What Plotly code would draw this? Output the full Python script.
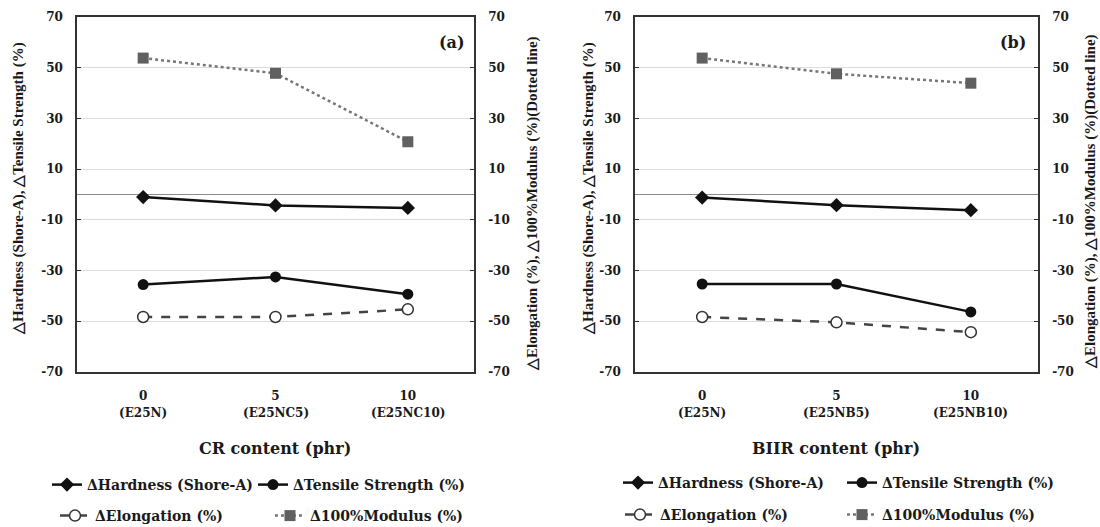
import plotly.graph_objects as go

# ---------------- data ----------------
categories = ["0", "5", "10"]
sublabels_a = ["(E25N)", "(E25NC5)", "(E25NC10)"]
sublabels_b = ["(E25N)", "(E25NB5)", "(E25NB10)"]

hardness_a = [-1, -4.3, -5.3]
tensile_a = [-35.5, -32.5, -39.3]
elongation_a = [-48.3, -48.3, -45.3]
modulus_a = [53.8, 47.8, 20.8]

hardness_b = [-1.2, -4.2, -6.2]
tensile_b = [-35.3, -35.3, -46.3]
elongation_b = [-48.3, -50.4, -54.3]
modulus_b = [53.8, 47.6, 43.9]

y_ticks = [-70, -50, -30, -10, 10, 30, 50, 70]

names = ["ΔHardness (Shore-A)", "ΔTensile Strength (%)", "ΔElongation (%)", "Δ100%Modulus (%)"]

W, H = 1100, 527
SERIF = "DejaVu Serif"
TXT = "#1a1a1a"

def px(x):
    return x / W

def py(y):
    return 1 - y / H

fig = go.Figure()

styles = [
    dict(line=dict(color="#111", width=2.5), marker=dict(symbol="diamond", size=11, color="#111")),
    dict(line=dict(color="#111", width=2.5), marker=dict(symbol="circle", size=11, color="#111")),
    dict(line=dict(color="#444", width=2.5, dash="dash"),
         marker=dict(symbol="circle", size=11, color="white", line=dict(color="#333", width=1.5))),
    dict(line=dict(color="#777", width=2.5, dash="dot"),
         marker=dict(symbol="square", size=11, color="#606060")),
]

panels = [
    dict(series=[hardness_a, tensile_a, elongation_a, modulus_a], xa="x", ya=["y", "y", "y2", "y2"],
         legends=["legend", "legend2", "legend3", "legend4"]),
    dict(series=[hardness_b, tensile_b, elongation_b, modulus_b], xa="x2", ya=["y3", "y3", "y4", "y4"],
         legends=["legend5", "legend6", "legend7", "legend8"]),
]

for p in panels:
    for i, s in enumerate(p["series"]):
        fig.add_trace(go.Scatter(
            x=categories, y=s, name=names[i], mode="lines+markers",
            xaxis=p["xa"], yaxis=p["ya"][i], legend=p["legends"][i], showlegend=True,
            line=styles[i]["line"], marker=styles[i]["marker"],
        ))

tickfont = dict(family=SERIF, size=12, color=TXT, weight="bold")

def yax(side, anchor, overlaying=None, grid=True):
    d = dict(
        range=[-70, 70], tickvals=y_ticks, ticktext=[str(v) for v in y_ticks],
        showgrid=grid, gridcolor="#dcdcdc", gridwidth=1,
        zeroline=grid, zerolinecolor="#8a8a8a", zerolinewidth=1,
        showline=True, linecolor="#333", linewidth=1.5,
        ticks="inside", ticklen=4, tickcolor="#333",
        tickfont=tickfont, side=side, anchor=anchor,
        ticklabelstandoff=10, fixedrange=True,
        domain=[py(372), py(17)],
    )
    if overlaying:
        d["overlaying"] = overlaying
    return d

def xax(domain, anchor):
    return dict(
        type="category", range=[-0.5, 2.5], domain=domain, anchor=anchor,
        showgrid=False, showline=True, mirror=True, linecolor="#333", linewidth=1.5,
        ticks="", tickfont=tickfont, ticklabelstandoff=12, fixedrange=True,
    )

dom_a = [px(77), px(474)]
dom_b = [px(635), px(1038)]

fig.update_layout(
    width=W, height=H, showlegend=True,
    margin=dict(l=0, r=0, t=0, b=0, autoexpand=False),
    paper_bgcolor="white", plot_bgcolor="white",
    xaxis=xax(dom_a, "y"),
    xaxis2=xax(dom_b, "y3"),
    yaxis=yax("left", "x"),
    yaxis2=yax("right", "x", overlaying="y", grid=False),
    yaxis3=yax("left", "x2"),
    yaxis4=yax("right", "x2", overlaying="y3", grid=False),
)

legfont = dict(family=SERIF, size=14, color=TXT, weight="bold")
leg_pos = {
    "legend": (47, 485), "legend2": (253, 485), "legend3": (55, 516), "legend4": (270, 516),
    "legend5": (618, 483), "legend6": (842, 483), "legend7": (620, 515), "legend8": (842, 515),
}
for k, (x, y) in leg_pos.items():
    fig.update_layout({k: dict(x=px(x), y=py(y), xanchor="left", yanchor="middle",
                               bgcolor="rgba(0,0,0,0)", font=legfont, itemwidth=30,
                               orientation="h", visible=True)})

ann = []
# second-line category labels
for xa, labs in (("x", sublabels_a), ("x2", sublabels_b)):
    for i, lab in enumerate(labs):
        ann.append(dict(x=i, y=py(413), xref=xa, yref="paper", text=lab,
                        xanchor="center", yanchor="middle", showarrow=False,
                        font=dict(family=SERIF, size=12, color=TXT, weight="bold")))
# x titles
for x, t in ((275, "CR content (phr)"), (836, "BIIR content (phr)")):
    ann.append(dict(x=px(x), y=py(448), xref="paper", yref="paper", text=t,
                    xanchor="center", yanchor="middle", showarrow=False,
                    font=dict(family=SERIF, size=16, color=TXT, weight="bold")))
# y titles
vfont = dict(family="Liberation Serif", size=15, color=TXT, weight="bold")
left_title = "△Hardness (Shore-A), △Tensile Strength (%)"
right_title = "△Elongation (%), △100%Modulus (%)(Dotted line)"
for x, y, t in ((18, 189, left_title), (532, 204, right_title),
                (588, 189, left_title), (1090, 202, right_title)):
    ann.append(dict(x=px(x), y=py(y), xref="paper", yref="paper", text=t, textangle=-90,
                    xanchor="center", yanchor="middle", showarrow=False, font=vfont))
# panel tags
for x, t in ((452, "(a)"), (1013, "(b)")):
    ann.append(dict(x=px(x), y=py(43), xref="paper", yref="paper", text=t, showarrow=False,
                    xanchor="center", yanchor="middle",
                    font=dict(family=SERIF, size=16, color=TXT, weight="bold")))

fig.update_layout(annotations=ann)

fig.write_html("out.html")
